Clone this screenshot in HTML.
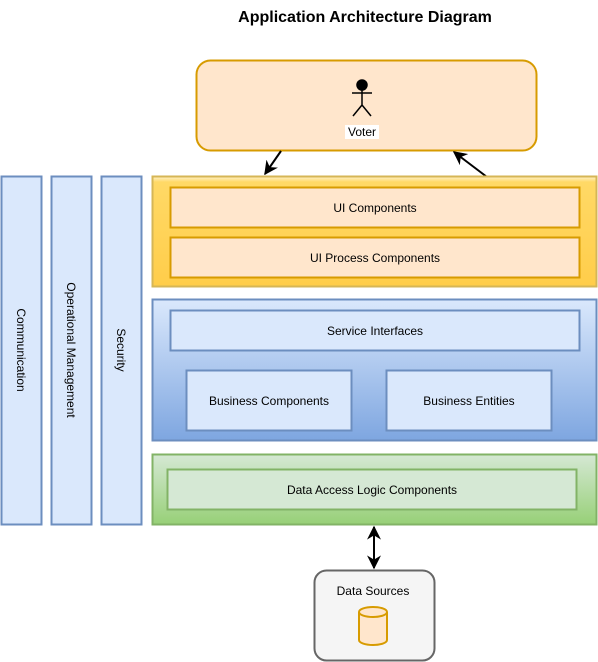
<!DOCTYPE html>
<html><head><style>body{margin:0;background:#fff}svg{display:block}text{font-family:"Liberation Sans",Arial,sans-serif}</style></head><body>
<svg width="598" height="662" viewBox="0 0 598 662" xmlns="http://www.w3.org/2000/svg">
<defs>
<linearGradient id="gy" x1="0" y1="0" x2="0" y2="1"><stop offset="0" stop-color="#fff2cc"/><stop offset="0.05" stop-color="#ffd966"/><stop offset="1" stop-color="#ffcd4a"/></linearGradient>
<linearGradient id="gb" x1="0" y1="0" x2="0" y2="1"><stop offset="0" stop-color="#dae8fc"/><stop offset="1" stop-color="#7ea6e0"/></linearGradient>
<linearGradient id="gg" x1="0" y1="0" x2="0" y2="1"><stop offset="0" stop-color="#d5e8d4"/><stop offset="1" stop-color="#97d077"/></linearGradient>
<marker id="a" viewBox="0 0 10 10" refX="9" refY="5" markerWidth="7" markerHeight="7" orient="auto-start-reverse"><path d="M0,0 L10,5 L0,10 L3,5z" fill="#000"/></marker>
</defs>
<text x="365" y="22" font-size="16" font-weight="bold" text-anchor="middle">Application Architecture Diagram</text>
<rect x="196.5" y="60.5" width="340" height="90" rx="14" fill="#ffe6cc" stroke="#d79b00" stroke-width="2"/>
<g stroke="#000" stroke-width="1.5" fill="none"><circle cx="362" cy="85" r="5" fill="#000"/><path d="M362 90V105M352 93H372M362 105L353 116M362 105L371 116"/></g>
<rect x="345" y="125" width="34" height="14" fill="#fff"/>
<text x="362" y="136" font-size="12" text-anchor="middle">Voter</text>
<line x1="281" y1="151" x2="265" y2="174" stroke="#000" stroke-width="2" marker-end="url(#a)"/>
<line x1="487" y1="177" x2="454" y2="152" stroke="#000" stroke-width="2" marker-end="url(#a)"/>
<g stroke="#6c8ebf" stroke-width="2" fill="#dae8fc"><rect x="1.5" y="176.5" width="40" height="348"/><rect x="51.5" y="176.5" width="40" height="348"/><rect x="101.5" y="176.5" width="40" height="348"/></g>
<g font-size="12" text-anchor="middle"><text transform="translate(17,350) rotate(90)">Communication</text><text transform="translate(67,350) rotate(90)">Operational Management</text><text transform="translate(117,350) rotate(90)">Security</text></g>
<rect x="152.5" y="176.5" width="444" height="110" fill="url(#gy)" stroke="#d6b656" stroke-width="2"/>
<rect x="170.5" y="187.5" width="409" height="40" fill="#ffe6cc" stroke="#d79b00" stroke-width="2"/>
<rect x="170.5" y="237.5" width="409" height="40" fill="#ffe6cc" stroke="#d79b00" stroke-width="2"/>
<rect x="152.5" y="299.5" width="444" height="141" fill="url(#gb)" stroke="#6c8ebf" stroke-width="2"/>
<rect x="170.5" y="310.5" width="409" height="40" fill="#dae8fc" stroke="#6c8ebf" stroke-width="2"/>
<rect x="186.5" y="370.5" width="165" height="60" fill="#dae8fc" stroke="#6c8ebf" stroke-width="2"/>
<rect x="386.5" y="370.5" width="165" height="60" fill="#dae8fc" stroke="#6c8ebf" stroke-width="2"/>
<rect x="152.5" y="454.5" width="444" height="70" fill="url(#gg)" stroke="#82b366" stroke-width="2"/>
<rect x="167.5" y="469.5" width="409" height="40" fill="#d5e8d4" stroke="#82b366" stroke-width="2"/>
<g font-size="12" text-anchor="middle"><text x="375" y="212">UI Components</text><text x="375" y="262">UI Process Components</text><text x="375" y="335">Service Interfaces</text><text x="269" y="405">Business Components</text><text x="469" y="405">Business Entities</text><text x="372" y="494">Data Access Logic Components</text></g>
<line x1="374" y1="527" x2="374" y2="568" stroke="#000" stroke-width="2" marker-start="url(#a)" marker-end="url(#a)"/>
<rect x="314.5" y="570.5" width="120" height="90" rx="12" fill="#f5f5f5" stroke="#666" stroke-width="2"/>
<text x="373" y="595" font-size="12" text-anchor="middle">Data Sources</text>
<path d="M359 612V640A14 5 0 0 0 387 640V612" fill="#ffe6cc" stroke="#d79b00" stroke-width="2"/>
<ellipse cx="373" cy="612" rx="14" ry="5" fill="#ffe6cc" stroke="#d79b00" stroke-width="2"/>
</svg>
</body></html>
